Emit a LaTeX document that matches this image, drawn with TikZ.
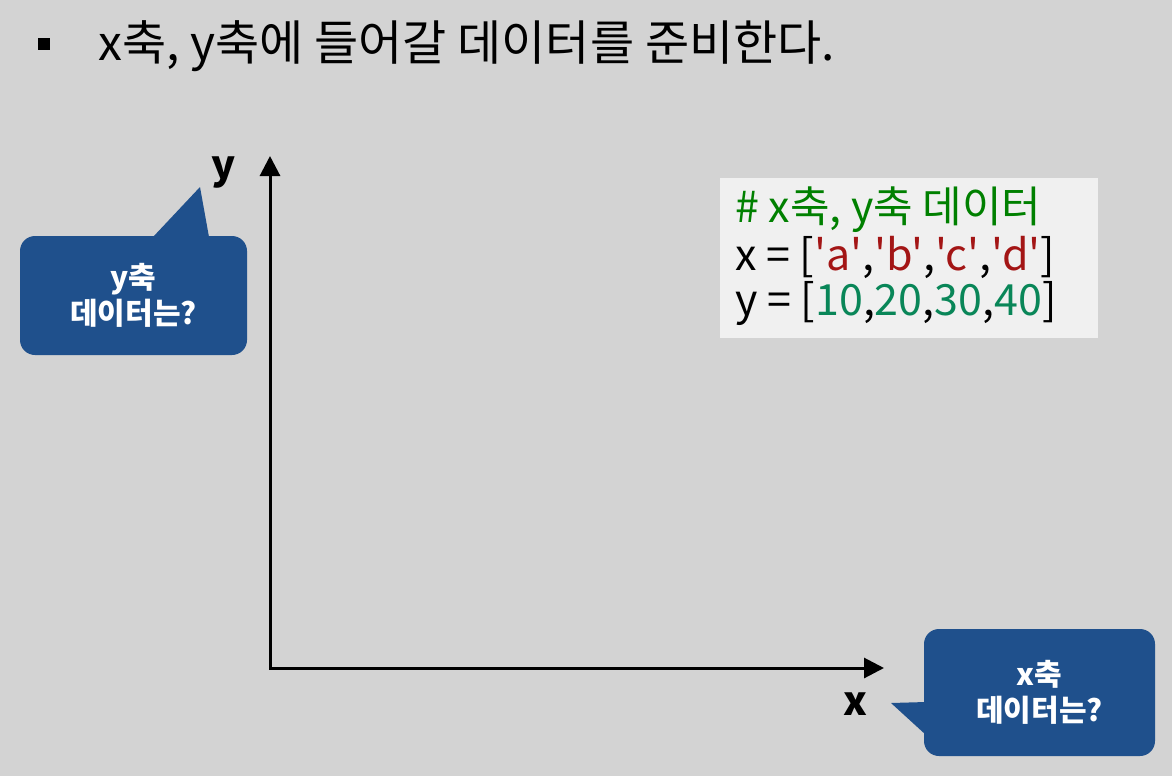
\documentclass[tikz,border=0pt]{standalone}
\usepackage{fontspec}
\setmainfont{Noto Sans CJK KR}
\newfontfamily\titlefont{Noto Sans CJK KR}
\newfontfamily\codefont[Ligatures=TeXOff]{Noto Sans CJK KR}
\usetikzlibrary{arrows.meta}
\definecolor{bg}{RGB}{211,211,211}
\definecolor{cblue}{RGB}{31,80,140}
\definecolor{codebg}{RGB}{240,240,240}
\definecolor{cgreen}{RGB}{0,128,0}
\definecolor{cstr}{RGB}{163,21,21}
\definecolor{cnum}{RGB}{9,134,88}
\tikzset{
  axis/.style={line width=3pt, {Triangle[length=20pt,width=20pt]}-{Triangle[length=20pt,width=20pt]}},
  axlabel/.style={inner sep=0, font=\bfseries\fontsize{40}{40}\selectfont},
  callout/.style={fill=cblue, rounded corners=15pt, text=white, align=center, inner sep=0,
    font=\bfseries\fontsize{30}{36}\selectfont},
  codeline/.style={anchor=base west, inner sep=0, font=\codefont\fontsize{43}{48}\selectfont},
}
\begin{document}
\begin{tikzpicture}[x=1pt,y=-1pt]
\fill[bg] (0,0) rectangle (1172,776);
\useasboundingbox (0,0) rectangle (1172,776);
% title
\node[fill=black, minimum size=12pt, inner sep=0] (bullet) at (44,44) {};
\node[anchor=base west, inner sep=0, font=\titlefont\fontsize{48}{54}\selectfont] (title) at (98,60) {x축, y축에 들어갈 데이터를 준비한다.};
% axes
\coordinate (O) at (270,668);
\coordinate (ytip) at (270,156);
\coordinate (xtip) at (884,668);
\draw[axis] (ytip) -- (O) -- (xtip);
\node[axlabel] (ylab) at (224,172) {y};
\node[axlabel] (xlab) at (855,704) {x};
% y callout
\node[callout, minimum width=227pt, minimum height=119pt] (ycall) at (133.5,295.5) {y축\\데이터는?};
\fill[cblue] (153,237) -- (200,187) -- (209,237) -- cycle;
% x callout
\node[callout, minimum width=231pt, minimum height=127pt] (xcall) at (1039.5,692.5) {x축\\데이터는?};
\fill[cblue] (926,702) -- (891,703) -- (926,735) -- cycle;
% code box
\node[fill=codebg, minimum width=378pt, minimum height=160pt, anchor=north west, inner sep=0] (code) at (720,178) {};
\node[codeline, text=cgreen] (c1) at (735,222) {\# x축, y축 데이터};
\node[codeline] (c2) at (735,270) {x = [{\color{cstr}'a'},{\color{cstr}'b'},{\color{cstr}'c'},{\color{cstr}'d'}]};
\node[codeline] (c3) at (735,315) {y = [{\color{cnum}10},{\color{cnum}20},{\color{cnum}30},{\color{cnum}40}]};
\end{tikzpicture}
\end{document}
